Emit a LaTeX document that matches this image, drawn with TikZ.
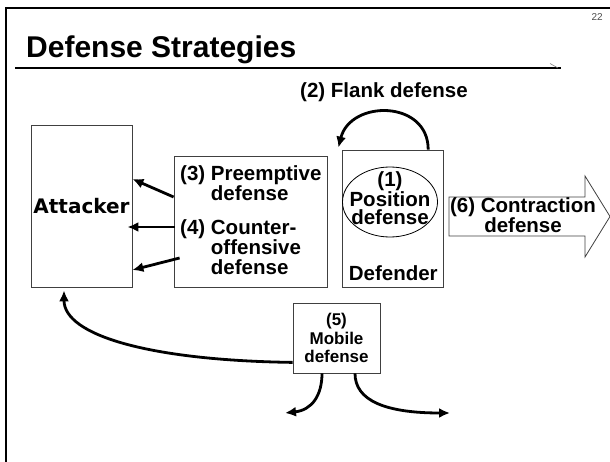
\documentclass[tikz,border=0pt]{standalone}
\usepackage{fontspec}
\setmainfont{Liberation Sans}
\newfontfamily\heavyfont{DejaVu Sans}
\usetikzlibrary{arrows.meta,positioning,shapes.geometric}

\newcommand{\lblfont}{\bfseries\fontsize{20.5}{18.7}\selectfont}
\newcommand{\smlfont}{\bfseries\fontsize{17}{18.5}\selectfont}

\tikzset{
  box/.style={draw=black!75, line width=0.8pt, fill=white, inner sep=0pt},
  lbl/.style={font=\lblfont, align=left, inner sep=0pt},
  push/.style={line width=2.8pt, -{Latex[length=11pt,width=10pt]}},
}

\begin{document}
\begin{tikzpicture}[x=1pt,y=-1pt]
\useasboundingbox (0,0) rectangle (610,462);

% slide frame and heading
\draw [line width=2pt] (6,470) -- (6,8.5) -- (620,8.5);
\node [anchor=base east, inner sep=0pt, text=black!70, font=\fontsize{10}{12}\selectfont] (num) at (603,21) {22};
\node [anchor=base west, inner sep=0pt, font=\bfseries\fontsize{30}{32}\selectfont] (title) at (26,58) {Defense Strategies};
\draw [line width=1.2pt] (15,68) -- (561,68);
\draw [black!50, line width=0.6pt] (550,63.5) -- (558,68);

\node [box, minimum width=101pt, minimum height=162pt, font=\heavyfont\bfseries\fontsize{20}{22}\selectfont] (atk) at (81.5,206) {Attacker};
\node [box, minimum width=153pt, minimum height=131pt] (pre) at (250.5,221.5) {};
\node [box, minimum width=101pt, minimum height=137pt, right=15pt of pre.south east, anchor=south west] (def) {};
\node [draw, ellipse, line width=0.8pt, minimum width=95pt, minimum height=70pt, inner sep=0pt] (pos) at (390,202) {};
\node [lbl, align=center, font=\bfseries\fontsize{20.5}{17.5}\selectfont] (postxt) at (390,198) {(1)\\Position\\defense};
\node [lbl, anchor=base] (deftxt) at ([yshift=7pt]def.south) {Defender};
\node [box, minimum width=87pt, minimum height=70pt, align=center, font=\smlfont] (mob) at (336.5,338) {(5)\\Mobile\\defense};

% contraction arrow
\draw [black!75, line width=0.8pt, fill=white] (449,197) -- (585,197) -- (585,176) -- (610,216.5) -- (585,257) -- (585,236) -- (449,236) -- cycle;
\node [lbl, align=center] (con) at (523,215) {(6) Contraction\\defense};

\node [lbl, anchor=north west] (p3) at (180,165) {(3) Preemptive\\\phantom{(3) }defense};
\node [lbl, anchor=north west] (p4) at (180,219) {(4) Counter-\\\phantom{(4) }offensive\\\phantom{(4) }defense};
\node [lbl, anchor=base west] (flk) at (300,98) {(2) Flank defense};

\draw [push] ([yshift=24.5pt]pre.west) -- ([yshift=27pt]atk.east);
\draw [push] ([xshift=1pt,yshift=-5.5pt]pre.west) -- ([xshift=-5pt,yshift=-21pt]atk.east);
\draw [push] ([xshift=6pt,yshift=-36.5pt]pre.west) -- ([yshift=-64pt]atk.east);

\draw [push] ([xshift=-16pt]def.north east) .. controls +(0,-50) and +(12,-48) .. ([xshift=-4pt,yshift=2pt]def.north west);

\coordinate (dl) at (285,413);
\coordinate (dr) at (450,413);
\draw [push] ([yshift=11pt]mob.south west) .. controls +(-143,-2) and +(0,45) .. ([xshift=-17.5pt,yshift=-3pt]atk.south);
\draw [push] ([xshift=-14.5pt]mob.south) .. controls +(0,22) and +(27,-3) .. (dl);
\draw [push] ([xshift=18.5pt]mob.south) .. controls +(0,27) and +(-65,0) .. (dr);
\end{tikzpicture}
\end{document}
